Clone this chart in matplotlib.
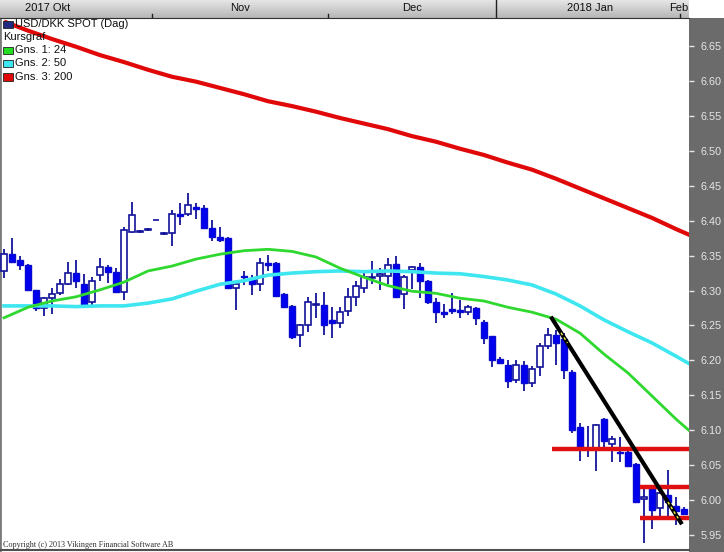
import numpy as np
import matplotlib
matplotlib.use("Agg")
import matplotlib.pyplot as plt
from matplotlib.patches import Rectangle
from matplotlib.ticker import FormatStrFormatter

# USD/DKK daily candles, Oct 2017 - Feb 2018
opens = [6.328, 6.352, 6.344, 6.337, 6.301, 6.275, 6.290, 6.296, 6.309, 6.325,
         6.309, 6.283, 6.322, 6.333, 6.327, 6.298, 6.384, 6.384, 6.387, 6.401,
         6.381, 6.382, 6.410, 6.409, 6.419, 6.418, 6.389, 6.377, 6.375, 6.304,
         6.321, 6.318, 6.310, 6.339, 6.340, 6.295, 6.278, 6.236, 6.251, 6.280,
         6.279, 6.258, 6.253, 6.270, 6.291, 6.303, 6.318, 6.321, 6.321, 6.338,
         6.295, 6.330, 6.333, 6.313, 6.283, 6.269, 6.273, 6.272, 6.269, 6.275,
         6.255, 6.235, 6.202, 6.193, 6.172, 6.194, 6.167, 6.190, 6.220, 6.236,
         6.230, 6.184, 6.104, 6.073, 6.073, 6.116, 6.080, 6.069, 6.069, 6.052,
         6.002, 6.017, 5.989, 6.008, 5.992, 5.988]
highs = [6.360, 6.375, 6.349, 6.338, 6.301, 6.291, 6.303, 6.316, 6.341, 6.344,
         6.324, 6.319, 6.346, 6.337, 6.332, 6.391, 6.427, 6.387, 6.390, 6.401,
         6.384, 6.415, 6.425, 6.439, 6.425, 6.422, 6.401, 6.391, 6.377, 6.312,
         6.328, 6.322, 6.347, 6.351, 6.341, 6.296, 6.280, 6.252, 6.291, 6.296,
         6.298, 6.277, 6.277, 6.303, 6.314, 6.326, 6.342, 6.332, 6.346, 6.349,
         6.322, 6.335, 6.339, 6.315, 6.290, 6.281, 6.297, 6.286, 6.279, 6.277,
         6.258, 6.235, 6.205, 6.200, 6.201, 6.199, 6.192, 6.225, 6.247, 6.244,
         6.239, 6.186, 6.110, 6.106, 6.109, 6.117, 6.092, 6.091, 6.074, 6.053,
         6.019, 6.019, 6.019, 6.043, 6.005, 5.990]
lows = [6.318, 6.339, 6.329, 6.300, 6.271, 6.264, 6.267, 6.294, 6.308, 6.303,
        6.275, 6.277, 6.313, 6.311, 6.296, 6.286, 6.383, 6.383, 6.385, 6.401,
        6.379, 6.364, 6.394, 6.406, 6.403, 6.389, 6.371, 6.369, 6.302, 6.272,
        6.308, 6.293, 6.300, 6.328, 6.291, 6.275, 6.230, 6.219, 6.241, 6.261,
        6.236, 6.232, 6.246, 6.264, 6.278, 6.297, 6.310, 6.301, 6.310, 6.290,
        6.273, 6.302, 6.289, 6.281, 6.253, 6.260, 6.267, 6.260, 6.265, 6.251,
        6.224, 6.190, 6.195, 6.160, 6.167, 6.156, 6.162, 6.177, 6.217, 6.193,
        6.174, 6.096, 6.056, 6.062, 6.042, 6.073, 6.055, 6.055, 6.048, 5.996,
        5.938, 5.959, 5.975, 5.975, 5.964, 5.978]
closes = [6.353, 6.341, 6.337, 6.301, 6.275, 6.289, 6.295, 6.309, 6.325, 6.313,
          6.279, 6.314, 6.333, 6.326, 6.298, 6.387, 6.408, 6.385, 6.388, 6.401,
          6.382, 6.410, 6.407, 6.422, 6.417, 6.390, 6.376, 6.373, 6.304, 6.309,
          6.319, 6.309, 6.340, 6.337, 6.292, 6.277, 6.234, 6.251, 6.283, 6.281,
          6.251, 6.253, 6.269, 6.291, 6.307, 6.319, 6.320, 6.323, 6.337, 6.291,
          6.319, 6.334, 6.314, 6.284, 6.269, 6.267, 6.270, 6.269, 6.277, 6.260,
          6.232, 6.200, 6.196, 6.170, 6.194, 6.167, 6.187, 6.220, 6.236, 6.225,
          6.186, 6.100, 6.073, 6.073, 6.108, 6.085, 6.087, 6.068, 6.049, 5.998,
          6.004, 5.986, 6.010, 5.998, 5.985, 5.980]

# moving averages, sampled every 3rd trading day
ma_idx = [0, 3, 6, 9, 12, 15, 18, 21, 24, 27, 30, 33, 36, 39, 42, 45, 48, 51,
          54, 57, 60, 63, 66, 69, 72, 75, 78, 81, 84, 86]
ma24 = [6.261, 6.276, 6.285, 6.291, 6.301, 6.312, 6.328, 6.335, 6.345, 6.352,
        6.357, 6.359, 6.356, 6.348, 6.332, 6.319, 6.307, 6.299, 6.296, 6.289,
        6.285, 6.276, 6.269, 6.259, 6.239, 6.209, 6.182, 6.149, 6.116, 6.096]
ma50 = [6.278, 6.278, 6.278, 6.277, 6.278, 6.278, 6.282, 6.288, 6.299, 6.309,
        6.314, 6.322, 6.325, 6.327, 6.328, 6.327, 6.328, 6.327, 6.325, 6.324,
        6.320, 6.315, 6.308, 6.295, 6.278, 6.258, 6.241, 6.225, 6.206, 6.193]
ma200 = [6.685, 6.672, 6.660, 6.649, 6.637, 6.627, 6.616, 6.606, 6.599, 6.590,
         6.581, 6.571, 6.564, 6.556, 6.547, 6.539, 6.531, 6.521, 6.513, 6.503,
         6.494, 6.483, 6.473, 6.460, 6.446, 6.432, 6.418, 6.404, 6.388, 6.378]

# hand drawn objects: trend line and horizontal levels
trend_x = [68.5, 84.6]
trend_y = [6.260, 5.968]
level_start = [68.5, 79.5, 79.5]
level_price = [6.073, 6.019, 5.975]

months = ["2017 Okt", "Nov", "Dec", "2018 Jan", "Feb"]
month_pos = [5.4, 29.5, 51.0, 73.25, 84.4]
month_bounds = [18.5, 40.5, 61.5, 84.5]

W, H = 724, 552
def fx(px):
    return px / W
def fy(py):
    return 1 - py / H

plt.rcParams['font.family'] = ['Liberation Sans', 'DejaVu Sans']
fig = plt.figure(figsize=(W / 100, H / 100), dpi=100)
fig.patch.set_facecolor('white')

# dark price scale panel on the right
fig.patches.append(Rectangle((fx(689), 0), 1 - fx(689), fy(18), transform=fig.transFigure,
                             facecolor='#6b6b6b', edgecolor='none', zorder=-1))

XMIN, XMAX = -0.5, 85.625
ax = fig.add_axes([0, fy(550), fx(689), (550 - 18) / H])
ax.set_xlim(XMIN, XMAX)
ax.set_ylim(5.9286, 6.6901)
ax.set_facecolor('white')

n = len(opens)
x = np.arange(n)
o = np.array(opens); c = np.array(closes)
wick_col = '#12129a'
ax.vlines(x, lows, highs, color=wick_col, lw=1.3, zorder=2)
up = c >= o
body_lo = np.minimum(o, c)
body_h = np.abs(c - o)
ax.bar(x[up], body_h[up], bottom=body_lo[up], width=0.74, color='white',
       edgecolor=wick_col, linewidth=1.2, zorder=3)
ax.bar(x[~up], body_h[~up], bottom=body_lo[~up], width=0.74, color='#0000f0',
       edgecolor='#0a0ad0', linewidth=1.0, zorder=3)

ax.plot(ma_idx, ma200, color='#e00808', lw=3.0, zorder=4, solid_capstyle='butt')
ax.plot(ma_idx, ma50, color='#3ee6f0', lw=2.6, zorder=4)
ax.plot(ma_idx, ma24, color='#2ed82e', lw=2.0, zorder=4)

for xs, p in zip(level_start, level_price):
    ax.plot([xs, XMAX], [p, p], color='#e01010', lw=3.2, zorder=5, solid_capstyle='butt')
ax.plot(trend_x, trend_y, color='black', lw=3.0, zorder=6)
# selection highlights on the trend line
t = np.array([0.07, 0.12, 0.90, 0.98])
tx = trend_x[0] + t * (trend_x[1] - trend_x[0])
ty = trend_y[0] + t * (trend_y[1] - trend_y[0])
ax.plot(tx[:2], ty[:2], color='#f0f040', lw=1.0, ls=(0, (2, 2)), zorder=7)
ax.plot(tx[2:], ty[2:], color='#f0f040', lw=1.0, ls=(0, (2, 2)), zorder=7)

ax.yaxis.tick_right()
ax.set_yticks(np.arange(5.95, 6.651, 0.05))
ax.yaxis.set_major_formatter(FormatStrFormatter('%.2f'))
ax.tick_params(axis='y', colors='#e6e6e6', length=3.5, width=1, pad=5, labelsize=7.8)
ax.tick_params(axis='x', bottom=False, labelbottom=False)
for s in ['top', 'right']:
    ax.spines[s].set_visible(False)
ax.spines['left'].set_color('#7a7a7a')
ax.spines['left'].set_linewidth(2)
ax.spines['bottom'].set_color('#505050')
ax.spines['bottom'].set_linewidth(1.5)

# month header bar
hax = fig.add_axes([0, fy(18), fx(689), 18 / H])
grad = np.linspace(0, 1, 50).reshape(-1, 1)
hax.imshow(grad, aspect='auto', cmap=matplotlib.colors.LinearSegmentedColormap.from_list(
    'hdr', ['#e6e6e6', '#b6b6b6']), extent=[XMIN, XMAX, 0, 1], origin='upper')
hax.set_xlim(XMIN, XMAX)
hax.set_ylim(0, 1)
hax.set_xticks([]); hax.set_yticks([])
for s in ['top', 'left', 'right']:
    hax.spines[s].set_visible(False)
hax.spines['bottom'].set_color('#303030')
for lab, pos in zip(months, month_pos):
    hax.text(pos, 0.58, lab, ha='center', va='center', fontsize=8, color='#101010')
for b in month_bounds:
    top = 1.0 if b == 61.5 else 0.22
    hax.plot([b, b], [0, top], color='#202020', lw=1)

# legend block
leg = [("USD/DKK SPOT (Dag)", '#202a80', 24),
       ("Kursgraf", None, 37),
       ("Gns. 1: 24", '#22dd22', 50),
       ("Gns. 2: 50", '#3ee6f0', 63),
       ("Gns. 3: 200", '#e00808', 77)]
for lab, col, yy in leg:
    if col is None:
        fig.text(fx(3), fy(yy), lab, fontsize=8, va='center', ha='left', color='#101010')
    else:
        fig.patches.append(Rectangle((fx(3), fy(yy + 3.5)), fx(10), 7 / H, transform=fig.transFigure,
                                     facecolor=col, edgecolor='#202020', lw=0.6, zorder=5))
        fig.text(fx(15), fy(yy), lab, fontsize=8, va='center', ha='left', color='#101010')

fig.text(fx(3), fy(545), "Copyright (c) 2013 Vikingen Financial Software AB",
         family='Liberation Serif', fontsize=5.9, color='#303030', va='center', ha='left')

fig.savefig("out.png", dpi=100)
